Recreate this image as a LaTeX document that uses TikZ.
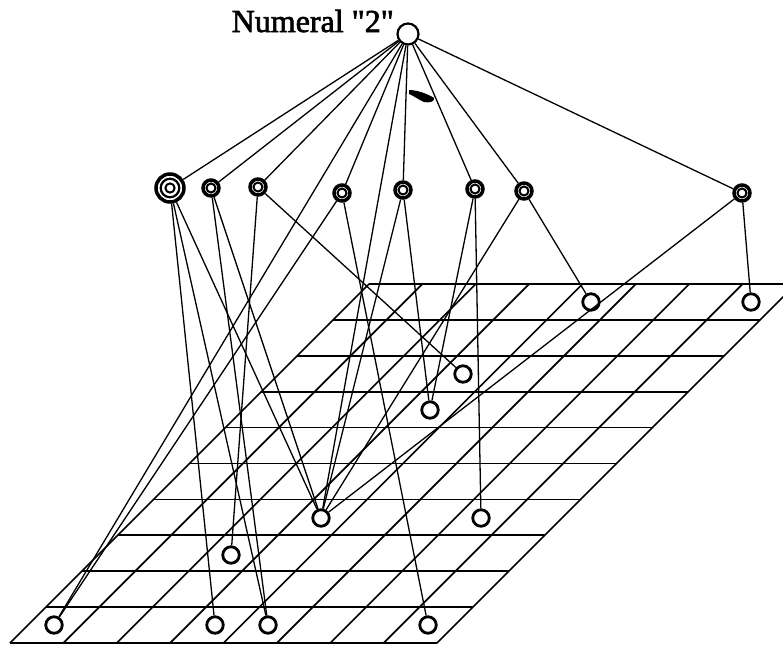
\documentclass[tikz,border=0pt]{standalone}
\usepackage{fontspec}
\setmainfont{Liberation Serif}
\newfontfamily\titlefont[FakeBold=2]{Liberation Serif}
\usetikzlibrary{positioning}

\begin{document}
\begin{tikzpicture}[x=1pt,y=-1pt,
  digit/.style={circle,draw=black,fill=white,line width=2.2pt,minimum size=21pt,inner sep=0pt},
  feat/.style={circle,draw=black,fill=white,line width=3.5pt,minimum size=16pt,inner sep=0pt,
    path picture={\draw[line width=2pt] (path picture bounding box.center) circle (4.5pt);
                  \fill (path picture bounding box.center) circle (1.3pt);}},
  featbig/.style={circle,draw=black,fill=white,line width=3.5pt,minimum size=28pt,inner sep=0pt,
    path picture={\draw[line width=2.2pt] (path picture bounding box.center) circle (9.3pt);
                  \draw[line width=2pt] (path picture bounding box.center) circle (4.6pt);
                  \fill (path picture bounding box.center) circle (1.3pt);}},
  pix/.style={circle,draw=black,fill=white,line width=2.8pt,minimum size=16.5pt,inner sep=0pt},
  pixdot/.style={pix,path picture={\fill (path picture bounding box.center) circle (1.9pt);}},
  link/.style={line width=1.3pt},
  rule/.style={line width=1.7pt}
]
\useasboundingbox (0,0) rectangle (783,645);
% ---- sheared 8 x 10 grid
\foreach \r in {0,...,10}
  \draw[rule] ({369-35.9*\r},{284+35.9*\r}) -- ({796-35.9*\r},{284+35.9*\r});
\foreach \c in {0,...,8}
  \draw[rule] ({10+53.375*\c},643) -- ({369+53.375*\c},284);
% ---- top node and its label
\node[digit] (num) at (408,34) {};
\node[anchor=base east,inner sep=0pt,font=\titlefont\fontsize{32}{36}\selectfont] (title)
  at (394,32) {Numeral \textquotedbl 2\textquotedbl};
% ---- feature nodes
\node[featbig] (fa) at (170,188) {};
\foreach \n/\x/\y in {fb/211/188, fc/258/187, fd/342/193, fe/403/190,
                      ff/475/189, fg/524/191, fh/742/193}
  \node[feat] (\n) at (\x,\y) {};
% ---- grid cells
\foreach \n/\x/\y in {p1/591/302, p2/751/302, p3/463/374, p4/430/410, p6/481/518,
                      p7/231/555, p9/215/625, p10/268/625, p11/428/625}
  \node[pix] (\n) at (\x,\y) {};
\node[pixdot] (p5) at (321,518) {};
\node[pixdot] (p8) at (54,625) {};
% ---- links
\foreach \s/\t in {num/fa, num/fb, num/fc, num/fd, num/fe, num/ff, num/fg, num/fh,
                   num/p8, num/p5,
                   fa/p9, fa/p10, fa/p5, fb/p5, fb/p10, fc/p3, fc/p7,
                   fd/p8, fd/p11, fe/p4, fe/p5, ff/p4, ff/p6,
                   fg/p1, fg/p5, fh/p2, fh/p5}
  \draw[link] (\s) -- (\t);
% small tick on the link to fe
\fill (409,90) .. controls (417,90) and (428,94) .. (434,98)
  .. controls (435,102) and (429,103) .. (424,102)
  .. controls (419,100) and (414,96) .. (409,94) -- cycle;
\end{tikzpicture}
\end{document}
